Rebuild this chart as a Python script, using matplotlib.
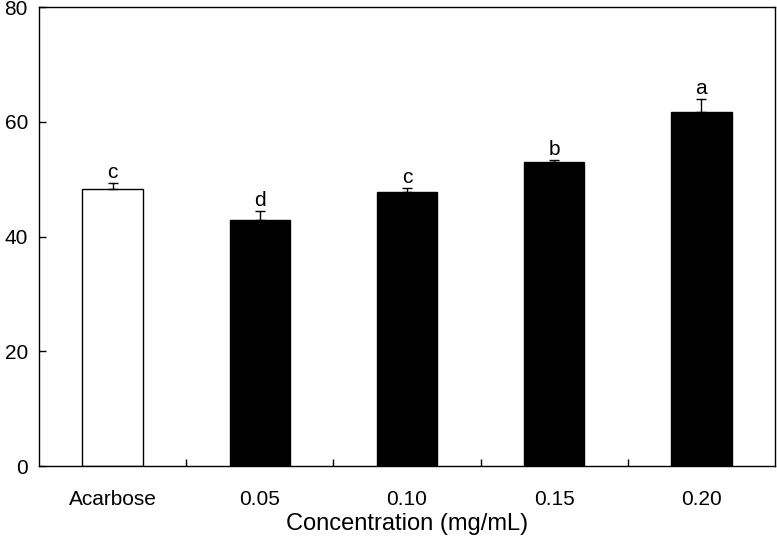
import matplotlib
matplotlib.use("Agg")
import matplotlib.pyplot as plt
import numpy as np

plt.rcParams['font.family'] = ['Liberation Sans', 'DejaVu Sans']

categories = ["Acarbose", "0.05", "0.10", "0.15", "0.20"]
values = [48.2, 42.9, 47.8, 53.0, 61.7]
errors = [1.1, 1.6, 0.7, 0.4, 2.3]
letters = ["c", "d", "c", "b", "a"]
facecolors = ["white", "black", "black", "black", "black"]

fig = plt.figure(figsize=(7.77, 5.43), dpi=100)
ax = fig.add_axes([0.0502, 0.1418, 0.9472, 0.8453])

x = np.arange(len(categories))
ax.bar(x, values, width=0.41, color=facecolors, edgecolor="black", linewidth=1.0, zorder=2)
ax.errorbar(x, values, yerr=[np.zeros(len(errors)), errors], fmt="none",
            ecolor="black", elinewidth=1.0, capsize=3.6, capthick=1.0, zorder=3)
for xi, v, e, l in zip(x, values, errors, letters):
    ax.annotate(l, (xi, v + e), xytext=(0, 0.5), textcoords="offset points",
                ha="center", va="bottom", fontsize=15)

ax.set_xlim(-0.5, len(categories) - 0.5)
ax.set_ylim(0, 80)
ax.set_yticks([0, 20, 40, 60, 80])
ax.set_xticks(x)
ax.set_xticklabels(categories, fontsize=15)
ax.tick_params(axis="x", which="major", length=0, pad=17)
ax.set_xticks(x[:-1] + 0.5, minor=True)
ax.tick_params(axis="x", which="minor", direction="in", length=5, width=1)
ax.tick_params(axis="y", direction="in", length=5, width=1, labelsize=15, pad=8)
for s in ax.spines.values():
    s.set_linewidth(1.0)
ax.set_xlabel("Concentration (mg/mL)", fontsize=17, labelpad=3)

fig.savefig("out.png", dpi=100)
